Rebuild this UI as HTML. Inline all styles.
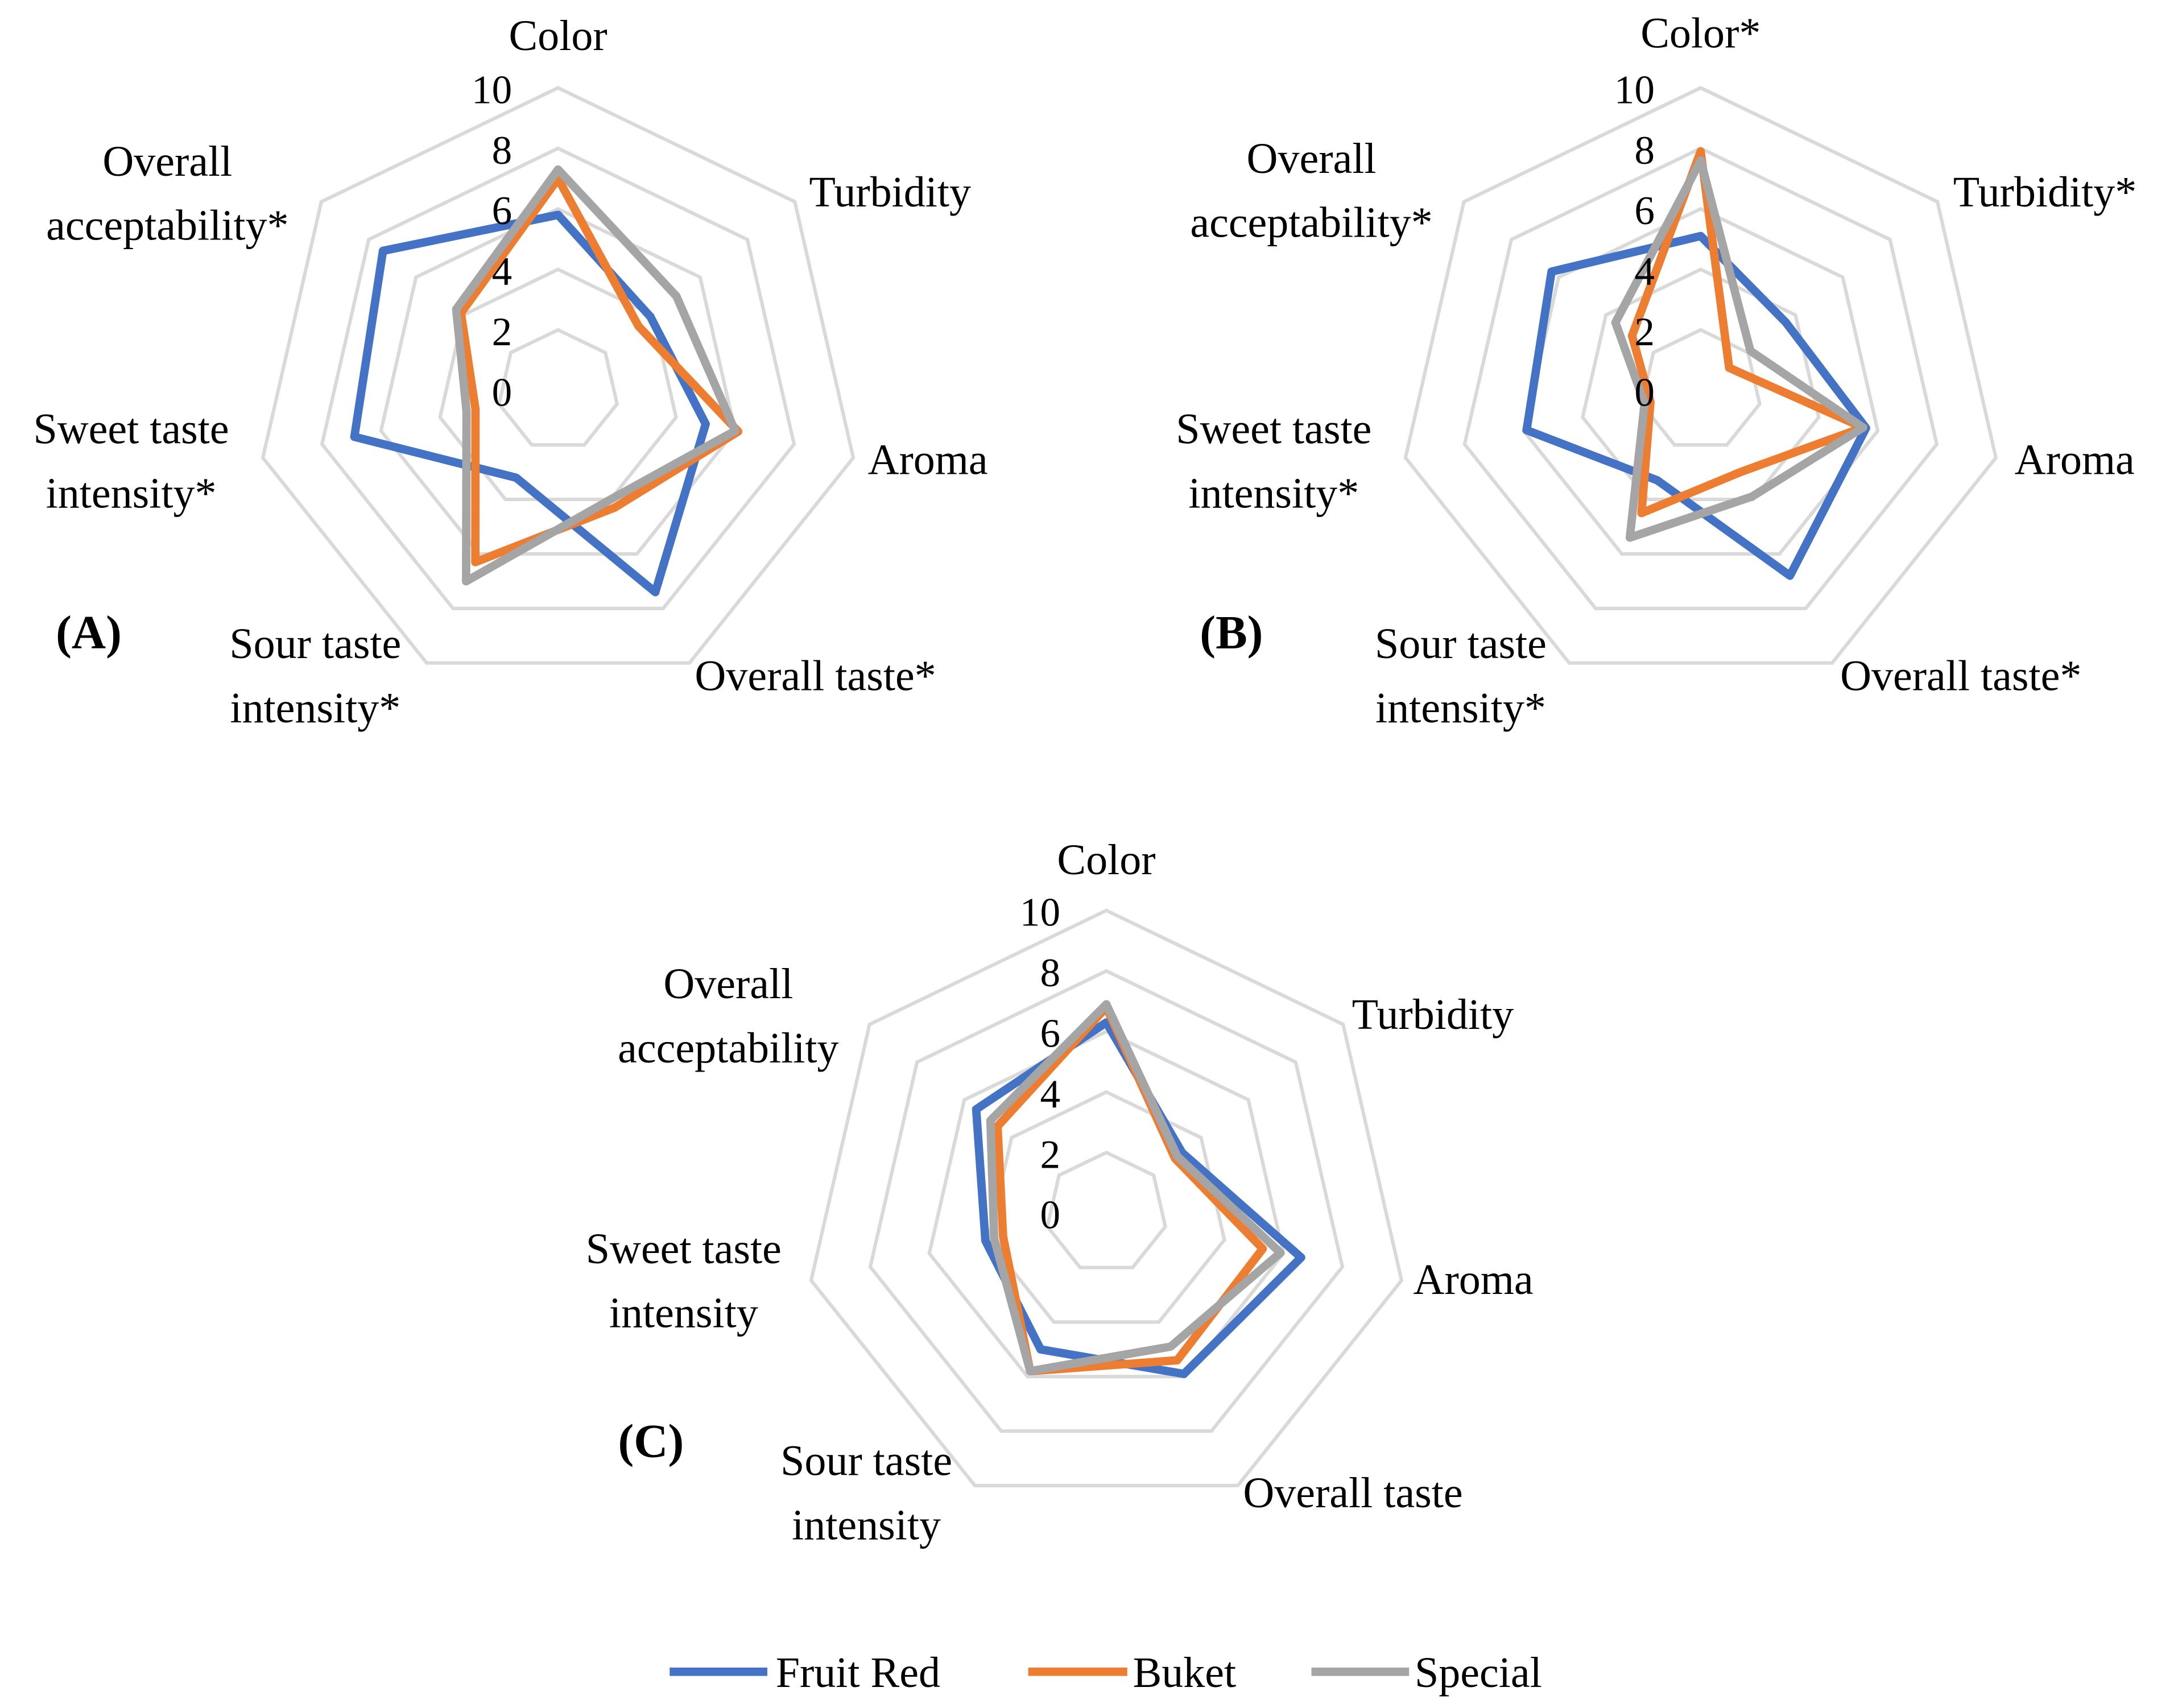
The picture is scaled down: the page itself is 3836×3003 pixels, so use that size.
<!DOCTYPE html>
<html><head><meta charset="utf-8"><style>
html,body{margin:0;padding:0;background:#fff;}
svg{display:block;}
text{font-family:"Liberation Serif",serif;fill:#000;}
</style></head><body>
<svg id="s" xmlns="http://www.w3.org/2000/svg" width="3836" height="3003" viewBox="0 0 1564 1225" preserveAspectRatio="none">
<rect width="1564" height="1225" fill="#fff"/>
<g id="g"></g>
<g font-size="31">
<text x="400" y="36" text-anchor="middle">Color</text>
<text x="580" y="148">Turbidity</text>
<text x="622" y="340">Aroma</text>
<text x="498" y="495">Overall taste*</text>
<text x="226" y="472" text-anchor="middle">Sour taste</text>
<text x="226" y="518" text-anchor="middle">intensity*</text>
<text x="94" y="318" text-anchor="middle">Sweet taste</text>
<text x="94" y="364" text-anchor="middle">intensity*</text>
<text x="120" y="126" text-anchor="middle">Overall</text>
<text x="120" y="172" text-anchor="middle">acceptability*</text>
<text x="40" y="465" font-weight="bold" font-size="34">(A)</text>

<text x="1219" y="34" text-anchor="middle">Color*</text>
<text x="1400" y="148">Turbidity*</text>
<text x="1444" y="340">Aroma</text>
<text x="1319" y="495">Overall taste*</text>
<text x="1047" y="472" text-anchor="middle">Sour taste</text>
<text x="1047" y="518" text-anchor="middle">intensity*</text>
<text x="913" y="318" text-anchor="middle">Sweet taste</text>
<text x="913" y="364" text-anchor="middle">intensity*</text>
<text x="940" y="124" text-anchor="middle">Overall</text>
<text x="940" y="170" text-anchor="middle">acceptability*</text>
<text x="860" y="465" font-weight="bold" font-size="34">(B)</text>

<text x="793" y="627" text-anchor="middle">Color</text>
<text x="969" y="738">Turbidity</text>
<text x="1013" y="928">Aroma</text>
<text x="891" y="1081">Overall taste</text>
<text x="621" y="1058" text-anchor="middle">Sour taste</text>
<text x="621" y="1104" text-anchor="middle">intensity</text>
<text x="490" y="906" text-anchor="middle">Sweet taste</text>
<text x="490" y="952" text-anchor="middle">intensity</text>
<text x="522" y="716" text-anchor="middle">Overall</text>
<text x="522" y="762" text-anchor="middle">acceptability</text>
<text x="443" y="1045" font-weight="bold" font-size="34">(C)</text>

<line x1="480" y1="1199" x2="550" y2="1199" stroke="#4472c4" stroke-width="6"/>
<text x="556" y="1210">Fruit Red</text>
<line x1="737" y1="1199" x2="808" y2="1199" stroke="#ed7d31" stroke-width="6"/>
<text x="812" y="1210">Buket</text>
<line x1="940" y1="1199" x2="1010" y2="1199" stroke="#a5a5a5" stroke-width="6"/>
<text x="1014" y="1210">Special</text>
</g>
</svg>
<script>
var NS="http://www.w3.org/2000/svg",g=document.getElementById("g");
var R=21.7;
function pts(cx,cy,vals){return vals.map(function(v,k){var a=(-90+k*360/7)*Math.PI/180;return (cx+v*R*Math.cos(a)).toFixed(1)+","+(cy+v*R*Math.sin(a)).toFixed(1);}).join(" ");}
function el(n,at){var e=document.createElementNS(NS,n);for(var k in at)e.setAttribute(k,at[k]);g.appendChild(e);return e;}
var charts=[
 {c:[400,280],d:[[5.8,3.9,5.0,7.4,3.2,6.9,7.4],[7.0,3.4,6.1,4.3,6.3,2.8,4.1],[7.3,5.0,6.0,4.0,7.0,3.1,4.3]]},
 {c:[1219,280],d:[[5.1,3.6,5.6,6.8,3.3,5.9,6.3],[7.9,1.2,5.5,3.0,4.5,1.7,2.9],[7.6,2.1,5.5,3.9,5.4,1.9,3.6]]},
 {c:[793,870],d:[[6.3,3.2,6.6,5.9,5.0,4.1,5.5],[6.8,2.9,5.3,5.4,5.8,3.5,4.6],[6.9,3.0,5.9,4.9,5.8,3.8,4.9]]}
];
var cols=["#4472c4","#ed7d31","#a5a5a5"];
charts.forEach(function(ch){
 var cx=ch.c[0],cy=ch.c[1];
 for(var r=2;r<=10;r+=2){el("polygon",{points:pts(cx,cy,[r,r,r,r,r,r,r]),fill:"none",stroke:"#d9d9d9","stroke-width":2.5});}
 ch.d.forEach(function(d,i){el("polygon",{points:pts(cx,cy,d),fill:"none",stroke:cols[i],"stroke-width":6,"stroke-linejoin":"round"});});
 for(var v=0;v<=10;v+=2){var t=el("text",{x:cx-33,y:cy-v*R+11,"text-anchor":"end","font-size":29});t.textContent=v;}
});
</script>
</body></html>
